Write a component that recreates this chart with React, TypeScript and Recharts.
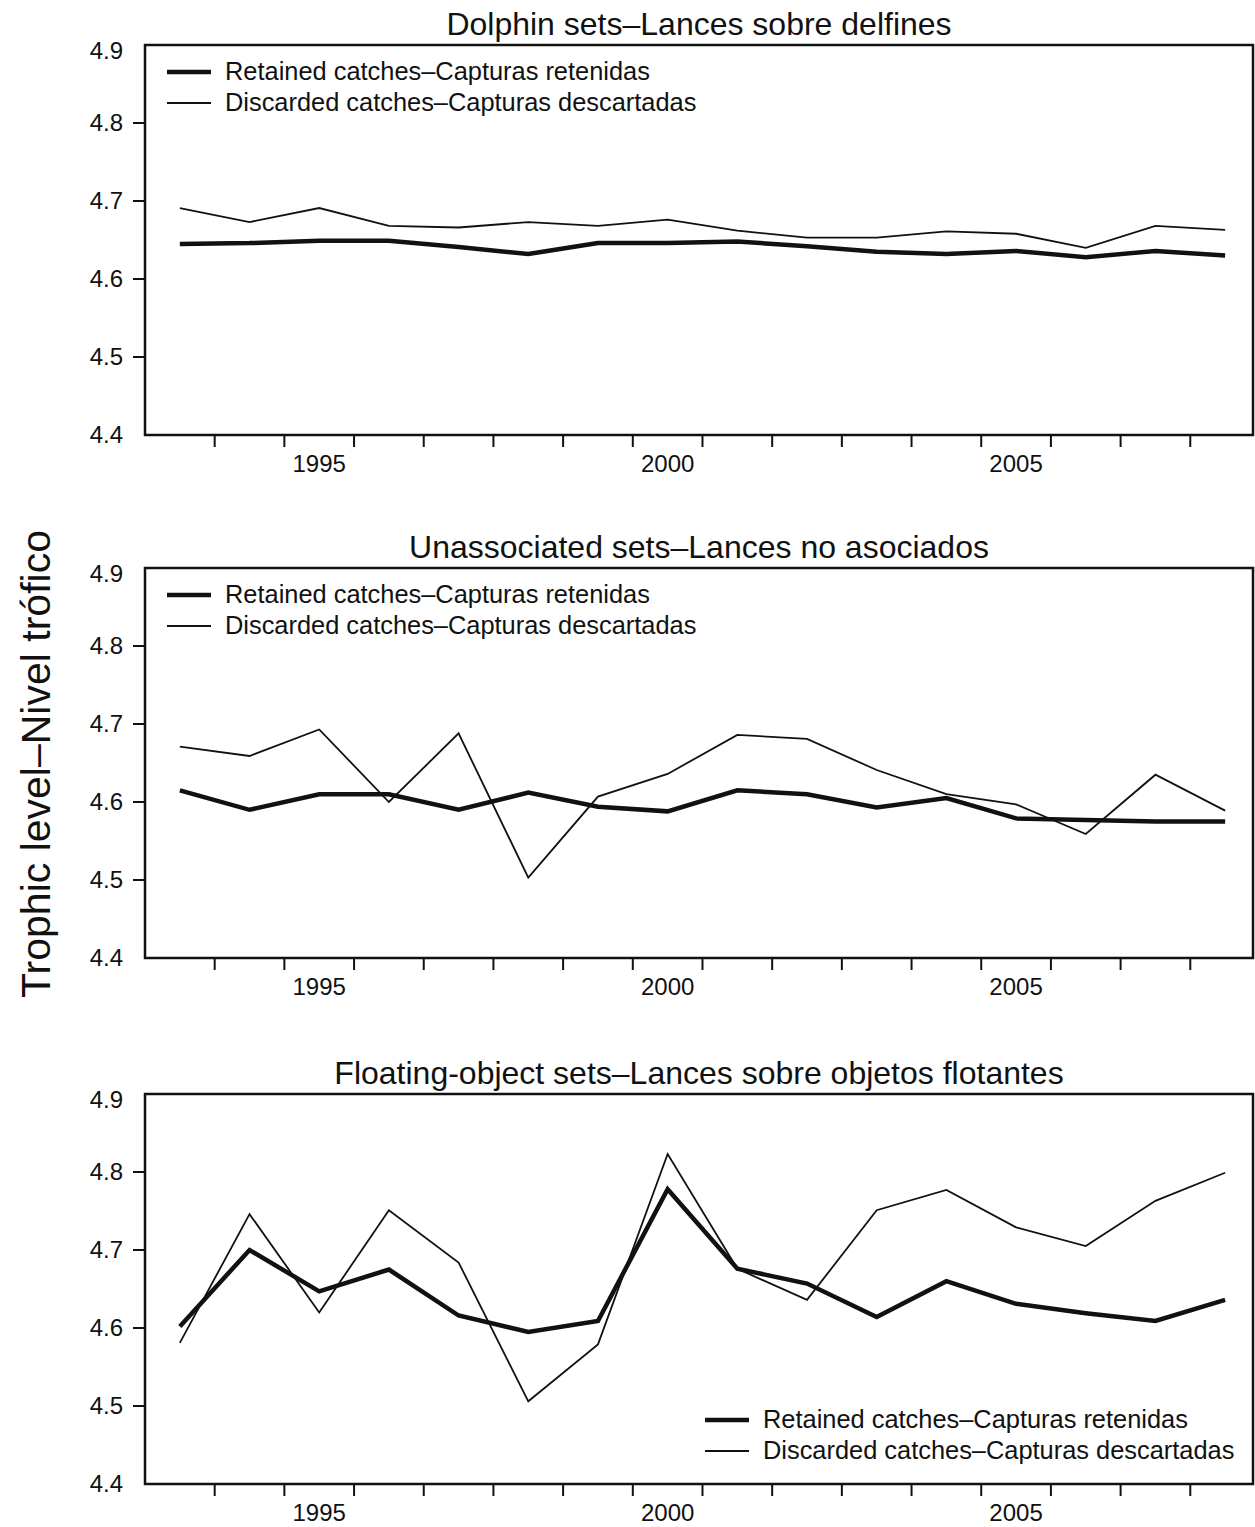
import React from "react";
import { LineChart, Line, XAxis, YAxis, ReferenceArea, Legend } from "recharts";

const years = [1993, 1994, 1995, 1996, 1997, 1998, 1999, 2000, 2001, 2002, 2003, 2004, 2005, 2006, 2007, 2008];
// tick marks sit between years; only these years get a label
const xTickMarks = [1993.5, 1994.5, 1995.5, 1996.5, 1997.5, 1998.5, 1999.5, 2000.5, 2001.5, 2002.5, 2003.5, 2004.5, 2005.5, 2006.5, 2007.5];
const xLabelYears = [1995, 2000, 2005];
const yTicks = [4.4, 4.5, 4.6, 4.7, 4.8, 4.9];

const dolphinRetained = [4.645, 4.646, 4.649, 4.649, 4.641, 4.632, 4.646, 4.646, 4.648, 4.642, 4.635, 4.632, 4.636, 4.628, 4.636, 4.63];
const dolphinDiscarded = [4.691, 4.673, 4.691, 4.668, 4.666, 4.673, 4.668, 4.676, 4.662, 4.653, 4.653, 4.661, 4.658, 4.64, 4.668, 4.663];

const unassocRetained = [4.615, 4.59, 4.61, 4.61, 4.59, 4.612, 4.594, 4.588, 4.615, 4.61, 4.593, 4.605, 4.579, 4.577, 4.575, 4.575];
const unassocDiscarded = [4.671, 4.659, 4.693, 4.6, 4.688, 4.503, 4.607, 4.636, 4.686, 4.681, 4.641, 4.61, 4.597, 4.559, 4.635, 4.589];

const floatingRetained = [4.602, 4.7, 4.647, 4.675, 4.616, 4.595, 4.609, 4.778, 4.676, 4.657, 4.614, 4.66, 4.631, 4.619, 4.609, 4.636];
const floatingDiscarded = [4.581, 4.746, 4.62, 4.751, 4.684, 4.506, 4.579, 4.823, 4.676, 4.636, 4.751, 4.777, 4.729, 4.705, 4.763, 4.799];

const FONT = '"Liberation Sans", Arial, Helvetica, sans-serif';
const INK = "#111";
const X_DOMAIN: [number, number] = [1992.5, 2008.4];
const Y_DOMAIN: [number, number] = [4.4, 4.9];

const legendItems = [
  { label: "Retained catches\u2013Capturas retenidas", width: 4.5 },
  { label: "Discarded catches\u2013Capturas descartadas", width: 1.8 },
];

const renderXTick = ({ x = 0, y = 0, payload }: any) => {
  const v = payload?.value;
  if (xLabelYears.includes(v)) {
    return (
      <text x={x} y={y + 37} textAnchor="middle" fontSize={24} fill={INK} fontFamily={FONT}>
        {v}
      </text>
    );
  }
  return <line x1={x} x2={x} y1={y} y2={y + 12} stroke={INK} strokeWidth={2} />;
};

const renderYTick = ({ x = 0, y = 0, payload }: any) => {
  const v = payload?.value as number;
  const edge = v === 4.4 || v === 4.9;
  return (
    <g>
      {!edge && <line x1={x - 12} x2={x} y1={y} y2={y} stroke={INK} strokeWidth={2} />}
      <text x={x - 22} y={y + (v === 4.9 ? 6 : 0)} dy={8} textAnchor="end" fontSize={24} fill={INK} fontFamily={FONT}>
        {v.toFixed(1)}
      </text>
    </g>
  );
};

const renderLegend = () => (
  <div style={{ fontFamily: FONT, fontSize: 25.4, color: INK }}>
    {legendItems.map((item) => (
      <div key={item.label} style={{ display: "flex", alignItems: "center", height: 31, whiteSpace: "nowrap" }}>
        <svg width={44} height={10}>
          <line x1={0} x2={44} y1={5} y2={5} stroke={INK} strokeWidth={item.width} />
        </svg>
        <span style={{ marginLeft: 14 }}>{item.label}</span>
      </div>
    ))}
  </div>
);

interface PanelProps {
  top: number;
  title: string;
  retained: number[];
  discarded: number[];
  legendTop: number;
  legendLeft: number;
}

function Panel({ top, title, retained, discarded, legendTop, legendLeft }: PanelProps) {
  const data = years.map((year, i) => ({ year, retained: retained[i], discarded: discarded[i] }));
  return (
    <div style={{ position: "absolute", top, left: 0, width: 1255, height: 480 }}>
      <div
        style={{
          position: "absolute",
          top: 5,
          left: 145,
          width: 1108,
          textAlign: "center",
          fontFamily: FONT,
          fontSize: 32,
          lineHeight: "38px",
          color: INK,
        }}
      >
        {title}
      </div>
      <LineChart width={1255} height={480} data={data} margin={{ top: 45, right: 2, bottom: 0, left: 0 }}>
        <XAxis
          dataKey="year"
          type="number"
          domain={X_DOMAIN}
          allowDataOverflow
          ticks={[...xTickMarks, ...xLabelYears]}
          interval={0}
          tick={renderXTick}
          tickLine={false}
          axisLine={false}
          tickSize={0}
          tickMargin={0}
          height={45}
        />
        <YAxis
          type="number"
          domain={Y_DOMAIN}
          allowDataOverflow
          ticks={yTicks}
          interval={0}
          tick={renderYTick}
          tickLine={false}
          axisLine={false}
          tickSize={0}
          tickMargin={0}
          width={145}
        />
        <ReferenceArea x1={X_DOMAIN[0]} x2={X_DOMAIN[1]} y1={Y_DOMAIN[0]} y2={Y_DOMAIN[1]} fill="none" stroke={INK} strokeWidth={2.5} ifOverflow="visible" />
        <Line type="linear" dataKey="discarded" stroke={INK} strokeWidth={1.8} dot={false} activeDot={false} isAnimationActive={false} />
        <Line type="linear" dataKey="retained" stroke={INK} strokeWidth={4.5} dot={false} activeDot={false} isAnimationActive={false} />
        <Legend
          layout="vertical"
          align="center"
          verticalAlign="middle"
          content={renderLegend}
          wrapperStyle={{ top: legendTop, left: legendLeft, width: "auto" }}
        />
      </LineChart>
    </div>
  );
}

export default function App() {
  return (
    <div style={{ position: "relative", width: 1255, height: 1527, background: "#fff", overflow: "hidden" }}>
      <style>{"body{margin:0;background:#fff}"}</style>
      <svg width={80} height={1527} style={{ position: "absolute", left: 0, top: 0 }}>
        <text transform="translate(50,764) rotate(-90)" textAnchor="middle" fontSize={41} fill={INK} fontFamily={FONT}>
          Trophic level{"\u2013"}Nivel trófico
        </text>
      </svg>
      <Panel top={0} title={"Dolphin sets\u2013Lances sobre delfines"} retained={dolphinRetained} discarded={dolphinDiscarded} legendTop={56} legendLeft={167} />
      <Panel top={523} title={"Unassociated sets\u2013Lances no asociados"} retained={unassocRetained} discarded={unassocDiscarded} legendTop={56} legendLeft={167} />
      <Panel top={1049} title={"Floating-object sets\u2013Lances sobre objetos flotantes"} retained={floatingRetained} discarded={floatingDiscarded} legendTop={355} legendLeft={705} />
    </div>
  );
}
